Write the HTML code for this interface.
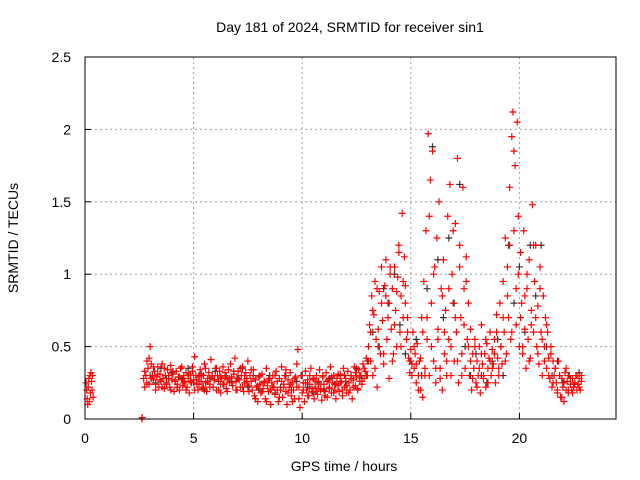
<!DOCTYPE html>
<html><head><meta charset="utf-8"><style>
body{margin:0;background:#fff}
svg{display:block;font-family:"Liberation Sans",sans-serif}
</style></head><body>
<svg id="c" width="640" height="480" xmlns="http://www.w3.org/2000/svg">
<rect x="0" y="0" width="640" height="480" fill="#fff"/>
<text x="350" y="32" text-anchor="middle" font-size="14">Day 181 of 2024, SRMTID for receiver sin1</text>
<text x="344" y="471" text-anchor="middle" font-size="14">GPS time / hours</text>
<text transform="translate(18,238) rotate(-90)" text-anchor="middle" font-size="14">SRMTID / TECUs</text>
<g id="grid"></g>
<g id="ticks"></g>
<g id="marks"></g>
<rect x="85" y="57" width="531" height="362" fill="none" stroke="#000" stroke-width="1"/>
</svg>
<script>
const xTicks=[0,5,10,15,20];
const yTicks=[0,0.5,1,1.5,2,2.5];
const yTickLabels=["0","0.5","1","1.5","2","2.5"];
const earlyStart=0.05, earlyStep=0.025;
const earlyVals=[0.25,0.2,0.14,0.1,0.22,0.28,0.12,0.3,0.18,0.32,0.26,0.2,0.3,0.15];
const loneTime=[2.62,2.63];
const loneVals=[0,0.01];
const aStart=2.7, aStep=0.05;
const aVals=[
0.28,0.22,0.3,0.25,0.35,0.42,0.5,0.38,0.3,0.27,0.33,0.24,0.29,0.36,0.22,0.31,0.26,0.38,0.28,0.21,
0.3,0.25,0.34,0.28,0.22,0.37,0.27,0.31,0.19,0.26,0.33,0.24,0.29,0.2,0.35,0.27,0.23,0.3,0.26,0.32,
0.22,0.28,0.18,0.31,0.25,0.36,0.27,0.43,0.3,0.24,0.2,0.29,0.34,0.26,0.21,0.3,0.38,0.25,0.19,0.28,
0.32,0.24,0.41,0.29,0.22,0.27,0.35,0.2,0.3,0.26,0.33,0.18,0.28,0.36,0.24,0.3,0.21,0.27,0.34,0.25,
0.38,0.29,0.23,0.31,0.42,0.26,0.2,0.33,0.27,0.22,0.3,0.36,0.19,0.25,0.32,0.28,0.4,0.23,0.3,0.26,
0.2,0.34,0.16,0.27,0.22,0.12,0.29,0.24,0.18,0.31,0.21,0.26,0.14,0.35,0.23,0.19,0.28,0.1,0.25,0.3,
0.22,0.17,0.33,0.26,0.12,0.28,0.2,0.36,0.15,0.24,0.3,0.19,0.1,0.27,0.22,0.32,0.16,0.25,0.2,0.14,
0.29,0.38,0.48,0.22,0.08,0.3,0.18,0.25,0.12,0.33,0.2,0.27,0.16,0.24,0.35,0.19,0.28,0.14,0.22,0.3,
0.17,0.26,0.34,0.21,0.13,0.29,0.24,0.19,0.32,0.15,0.27,0.22,0.36,0.18,0.25,0.3,0.2,0.14,0.28,0.23,
0.19,0.31,0.26,0.16,0.35,0.22,0.28,0.18,0.33,0.25,0.2,0.3,0.14,0.27,0.36,0.23,0.29,0.21,0.34,0.26,
0.3,0.24,0.38,0.28,0.33,0.42,0.3,0.5,0.65,0.4,0.85,0.3,0.72,0.95,0.55,0.22,0.62,0.88,0.45,1.05,
0.68,0.38,0.92,1.1,0.55,0.8,0.28,1.0,0.62,0.9,0.45,1.05,0.75,0.5,0.98,1.2,0.6,0.85,1.42,0.7,
1.12,0.92,0.55,0.7,0.42,0.32,0.48,0.38,0.6,0.35,0.45,0.25,0.52,0.3,0.4,0.2,0.7,0.15,0.95,0.35,
1.3,0.55,1.97,0.3,1.65,0.8,1.85,0.4,1.05,0.25,1.25,0.62,1.5,0.35,0.9,0.2,1.1,0.45,0.75,0.3,
1.4,0.55,1.62,0.3,1.0,0.8,0.4,1.35,0.6,1.8,0.25,1.2,0.7,0.45,1.6,0.9,0.35,1.12,0.55,0.8,
0.3,0.62,0.2,0.45,0.35,0.55,0.25,0.4,0.3,0.5,0.18,0.65,0.38,0.28,0.45,0.22,0.52,0.35,0.42,0.6,
0.3,0.48,0.38,0.55,0.25,0.72,0.42,0.35,0.8,0.5,0.38,0.95,0.6,1.25,0.45,1.05,0.7,1.6,0.55,1.95,
2.12,1.3,1.75,0.65,2.05,1.0,0.5,1.15,0.8,0.45,1.3,0.62,0.35,0.9,0.55,1.1,0.42,0.75,1.48,0.6,
0.95,1.2,0.5,0.78,0.38,1.05,0.6,0.3,0.85,0.5,0.7,0.35,0.6,0.42,0.28,0.5,0.22,0.4,0.3,0.35,
0.25,0.18,0.4,0.3,0.15,0.28,0.22,0.12,0.32,0.2,0.26,0.18,0.3,0.24,0.2,0.28,0.22,0.25,0.3,0.2,
0.24,0.28,0.2,0.3];
const bStart=2.75, bStep=0.1;
const bVals=[
0.33,0.4,0.24,0.28,0.36,0.2,0.31,0.27,0.22,0.35,
0.24,0.3,0.2,0.33,0.27,0.22,0.29,0.36,0.25,0.2,
0.3,0.26,0.33,0.2,0.27,0.24,0.31,0.22,0.35,0.26,
0.22,0.3,0.27,0.35,0.2,0.29,0.24,0.32,0.19,0.28,
0.25,0.33,0.2,0.28,0.35,0.22,0.3,0.26,0.19,0.34,
0.28,0.14,0.23,0.3,0.19,0.25,0.12,0.27,0.2,0.22,
0.3,0.2,0.15,0.26,0.22,0.34,0.18,0.24,0.12,0.28,
0.22,0.14,0.3,0.2,0.25,0.16,0.3,0.21,0.27,0.19,
0.24,0.2,0.3,0.16,0.26,0.21,0.29,0.18,0.24,0.31,
0.25,0.2,0.3,0.23,0.18,0.28,0.22,0.32,0.2,0.3,
0.26,0.35,0.3,0.4,0.6,0.75,0.35,0.9,0.5,0.8,
0.45,0.85,0.7,1.05,0.4,0.65,0.88,1.15,0.5,0.95,
0.8,0.6,0.4,0.3,0.5,0.38,0.2,0.42,0.6,0.3,
0.7,1.4,0.5,1.0,0.35,0.55,0.28,0.85,0.6,0.4,
0.9,0.5,1.3,0.7,0.4,1.05,0.3,0.65,0.95,0.5,
0.4,0.28,0.5,0.22,0.35,0.45,0.3,0.55,0.25,0.4,
0.35,0.45,0.6,0.3,0.5,0.7,0.4,0.85,1.2,0.6,
1.85,0.9,1.4,0.7,0.5,0.85,1.0,0.4,0.65,1.2,
0.7,0.45,0.9,0.55,0.4,0.65,0.3,0.45,0.25,0.35,
0.2,0.3,0.15,0.25,0.35,0.2,0.28,0.18,0.24,0.3,
0.22,0.26];
const kStart=3.0, kStep=0.25;
const kVals=[
0.3,0.25,0.35,0.28,0.32,0.22,0.28,0.35,0.25,0.3,0.2,0.28,0.33,0.24,0.3,0.26,
0.28,0.35,0.22,0.3,0.2,0.25,0.3,0.18,0.22,0.3,0.2,0.26,0.3,0.22,0.18,0.25,
0.2,0.28,0.24,0.3,0.26,0.3,0.35,0.28,0.4,0.6,0.5,0.9,0.8,1.0,0.65,0.45,
0.4,0.55,0.3,0.9,1.88,1.1,0.7,1.25,0.8,1.62,0.5,0.3,0.45,0.3,0.25,0.4,
0.55,0.3,1.2,0.8,1.05,0.6,1.2,0.85,1.2,0.5,0.3,0.4,0.25,0.3,0.22,0.32];

const NS="http://www.w3.org/2000/svg";
const X0=85,PXH=21.72,Y0=419,PXU=144.8;
function xs(h){return X0+h*PXH;}
function ys(v){return Y0-v*PXU;}
function el(tag,attrs,parent){const e=document.createElementNS(NS,tag);for(const k in attrs)e.setAttribute(k,attrs[k]);parent.appendChild(e);return e;}
const grid=document.getElementById('grid'),ticks=document.getElementById('ticks'),marks=document.getElementById('marks');
xTicks.forEach(t=>{
  const x=xs(t);
  if(t>0){const g=el('line',{x1:x,y1:57,x2:x,y2:419,stroke:'#a0a0a0','stroke-dasharray':'2,3'},grid);
  
  }
  const a=el('line',{x1:x,y1:419,x2:x,y2:413,stroke:'#000'},ticks);
  
  
  const l=el('text',{x:x,y:443,'text-anchor':'middle','font-size':'14'},ticks);l.textContent=String(t);
  
  
});
yTicks.forEach((t,i)=>{
  const y=ys(t);
  if(t>0&&t<2.5){const g=el('line',{x1:85,y1:y,x2:616,y2:y,stroke:'#a0a0a0','stroke-dasharray':'2,3'},grid);
  
  }
  const a=el('line',{x1:85,y1:y,x2:91,y2:y,stroke:'#000'},ticks);
  
  
  const l=el('text',{x:71,y:y+5,'text-anchor':'end','font-size':'14'},ticks);l.textContent=yTickLabels[i];
  
  
});
function plus(h,v,color,name){
  const x=xs(h),y=ys(v);
  const p=el('path',{d:`M${x-3.5} ${y}H${x+3.5}M${x} ${y-3.5}V${y+3.5}`,stroke:color,'stroke-width':'1.2',fill:'none'},marks);
  
  
}
kVals.forEach((v,i)=>plus(kStart+i*kStep,v,'#333','point-receiver-b'));
earlyVals.forEach((v,i)=>plus(earlyStart+i*earlyStep,v,'#f00','point-sin1'));
loneVals.forEach((v,i)=>plus(loneTime[i],v,'#f00','point-sin1'));
aVals.forEach((v,i)=>plus(aStart+i*aStep,v,'#f00','point-sin1'));
bVals.forEach((v,i)=>plus(bStart+i*bStep,v,'#f00','point-sin1'));
</script>
</body></html>
